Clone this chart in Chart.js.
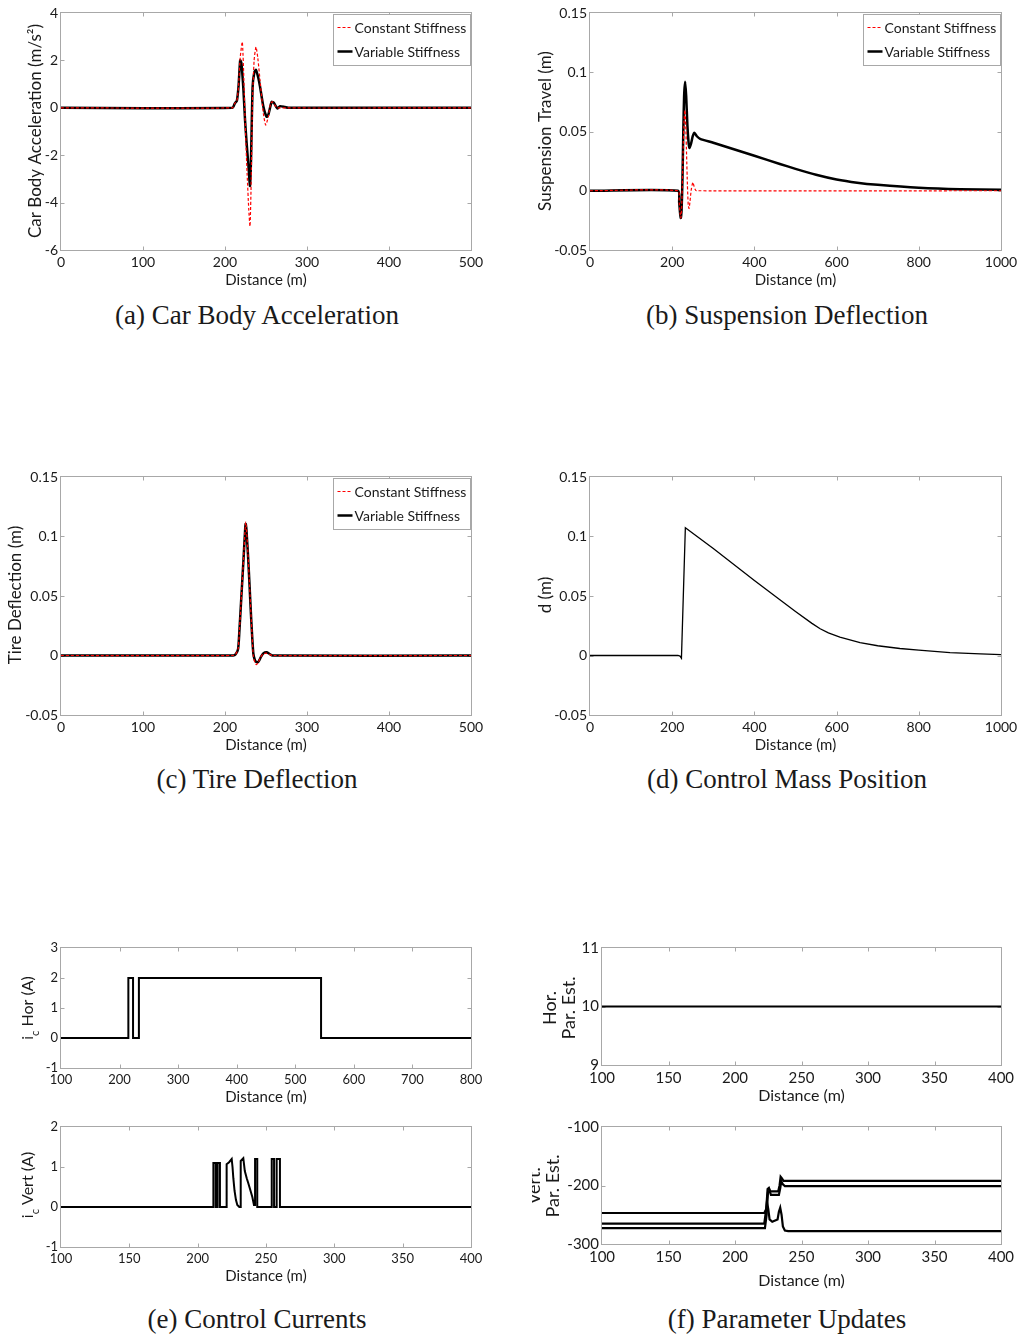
<!DOCTYPE html>
<html><head><meta charset="utf-8">
<script src="https://cdn.jsdelivr.net/npm/chart.js@4.4.1/dist/chart.umd.min.js"></script>
<style>
body{margin:0;background:#fff;width:1021px;height:1335px;overflow:hidden;position:relative;}
.p{position:absolute;}
.cap{position:absolute;font-family:"Liberation Serif","Times New Roman",serif;font-size:27px;line-height:30px;color:#1a1a1a;white-space:nowrap;transform:translateX(-50%);}
</style></head><body>
<div class="cap" style="left:257px;top:300px">(a) Car Body Acceleration</div>
<div class="cap" style="left:787px;top:300px">(b) Suspension Deflection</div>
<div class="cap" style="left:257px;top:764px">(c) Tire Deflection</div>
<div class="cap" style="left:787px;top:764px">(d) Control Mass Position</div>
<div class="cap" style="left:257px;top:1304px">(e) Control Currents</div>
<div class="cap" style="left:787px;top:1304px">(f) Parameter Updates</div>
<script>
// ---------- DATA ----------
const legendLabels = ['Constant Stiffness', 'Variable Stiffness'];

// (a) Car body acceleration
const aConstX = [0,209,212,214.5,216.5,218.5,221.1,223,225,227,229,230.5,232,233.5,235.5,237.8,240,242.7,246.8,249.6,252.8,255.7,258,261,264,500];
const aConstY = [0,0,0.19,0.3,0.9,2.1,2.78,1.2,-1.0,-2.8,-4.3,-5.0,-3.0,0.2,2.0,2.57,2.1,1.17,-0.24,-0.73,-0.38,0.19,0.25,0.1,0,0];
const aVarX = [0,209,212,214.5,216.5,218.5,220,222.4,224.4,226.4,228.5,230.5,231.7,233.7,235.8,237.8,240.7,242.7,246.8,250.8,252.8,256.9,259.8,263.8,267.1,273,277,500];
const aVarY = [0,0,0.19,0.3,0.9,2.0,1.9,0.8,-0.5,-1.5,-2.4,-3.3,-2.2,0.9,1.5,1.6,1.25,0.9,0.05,-0.38,-0.3,0.25,0.2,-0.03,0.07,0.03,0,0];
const aXTicks = [0,100,200,300,400,500];
const aYTicks = [-6,-4,-2,0,2,4];

// (b) Suspension deflection
const bConstX = [0,214,217,219.5,221,223,225,227,229,231,233,235,237,239,241,243,246,248.5,250.5,253,256,259,1000];
const bConstY = [0,0,-0.01,-0.02,-0.023,-0.015,0.01,0.04,0.06,0.068,0.055,0.03,0.005,-0.012,-0.015,-0.01,0.0,0.005,0.007,0.004,0.001,0,0];
const bVarX = [0,214,217,219.5,221,223,225,227,229,231.5,234,237,240,242,246,250,254,260,268,300,400,462,500,550,600,650,700,800,900,1000];
const bVarY = [0,0,-0.01,-0.02,-0.023,-0.015,0.01,0.05,0.08,0.092,0.08,0.055,0.04,0.036,0.04,0.046,0.049,0.046,0.0438,0.0405,0.0295,0.0226,0.0185,0.0135,0.0095,0.0068,0.005,0.0025,0.0012,0.0008];
const bXTicks = [0,200,400,600,800,1000];
const bYTicks = [-0.05,0,0.05,0.1,0.15];

// (c) Tire deflection
const cConstX = [0,210,213,216,217.5,220,222.5,224.5,225.2,226,228,230,232,234.5,236.5,238.3,240.5,243,246,250,254,258,500];
const cConstY = [0,0,0.001,0.0056,0.02,0.05,0.08,0.106,0.112,0.108,0.086,0.058,0.03,0.0,-0.006,-0.0076,-0.006,-0.002,0.001,0.002,0.001,0,0];
const cVarX = [0,210,213,216,217.5,220,222.5,224.5,225.2,226,228,230,232,234.5,236.5,238.6,241,244,247,250.8,254,258,500];
const cVarY = [0,0,0.001,0.0056,0.02,0.05,0.08,0.105,0.1106,0.107,0.085,0.058,0.03,0.002,-0.004,-0.0056,-0.005,-0.001,0.002,0.0028,0.0015,0,0];
const cXTicks = [0,100,200,300,400,500];
const cYTicks = [-0.05,0,0.05,0.1,0.15];

// (d) Control mass position
const dX = [0,214,219,222.5,232,300,400,462,500,540,560,580,608,657,700,754,800,876,950,1000];
const dY = [0,0,-0.0005,-0.0023,0.1073,0.09,0.063,0.0468,0.037,0.027,0.0225,0.019,0.0155,0.0108,0.0082,0.0059,0.0045,0.0025,0.0013,0.0008];
const dXTicks = [0,200,400,600,800,1000];
const dYTicks = [-0.05,0,0.05,0.1,0.15];

// (e) Control currents
const eHorX = [100,215,215,223,223,233,233,544,544,800];
const eHorY = [0,0,2,2,0,0,2,2,0,0];
const eHorXTicks = [100,200,300,400,500,600,700,800];
const eHorYTicks = [-1,0,1,2,3];
const eVertX = [100,211.5,211.5,213.2,213.2,214.6,214.6,216.3,216.3,221.2,221.2,223,224.9,225.5,226.1,227,228,229,230.5,231.5,231.5,233.4,234.5,235.9,237,238.3,240,241.2,242,242,243.6,243.6,254.2,254.2,255.9,255.9,257.8,257.8,260.2,260.2,400];
const eVertY = [0,0,1.1,1.1,0,0,1.1,1.1,0,0,1.07,1.12,1.2,1.0,0.72,0.4,0.18,0.05,0,0,1.15,1.22,0.9,0.72,0.6,0.45,0.25,0.05,0.05,1.2,1.2,0,0,1.2,1.2,0,0,1.2,1.2,0,0];
const eVertXTicks = [100,150,200,250,300,350,400];
const eVertYTicks = [-1,0,1,2];

// (f) Parameter updates
const fHorX = [100,400];
const fHorY = [10,10];
const fHorXTicks = [100,150,200,250,300,350,400];
const fHorYTicks = [9,10,11];
const fV1X = [100,222,223.5,224.5,225.5,226.5,232.5,233.5,234.3,235.3,236.5,400];
const fV1Y = [-247,-247,-240,-206,-204,-210,-210,-200,-185,-188,-192,-192];
const fV2X = [100,222.5,223.8,224.8,226,227,233,234,234.8,236,237.5,400];
const fV2Y = [-273,-273,-250,-212,-209,-216,-216,-205,-193,-198,-201,-201];
const fV3X = [100,222,223.2,224,225,226,228,232,233,234,235,236,237.5,240,400];
const fV3Y = [-265,-265,-245,-228,-240,-258,-262,-258,-245,-238,-250,-270,-277,-278,-278];
const fVertXTicks = [100,150,200,250,300,350,400];
const fVertYTicks = [-300,-200,-100];

// ---------- DRAWING ----------
const SANS = 'Lato, "Open Sans", sans-serif';
const pts = (xs, ys) => xs.map((x, i) => ({x, y: ys[i]}));
const red = (xs, ys) => ({label: legendLabels[0], data: pts(xs, ys), borderColor: '#ff0000', borderWidth: 1.2, borderDash: [3, 2], tension: 0.2});
const blk = (xs, ys, w, lbl) => ({label: lbl || legendLabels[1], data: pts(xs, ys), borderColor: '#000', borderWidth: w || 2.5, tension: 0.2});
const step = (xs, ys, w) => ({label: '', data: pts(xs, ys), borderColor: '#000', borderWidth: w || 2, tension: 0});

const deco = {
  id: 'deco',
  beforeDatasetsDraw(chart) {
    const o = chart.options.plugins.deco, ctx = chart.ctx, a = chart.chartArea;
    ctx.save();
    ctx.strokeStyle = '#a8a8a8'; ctx.lineWidth = 1;
    const l = Math.round(a.left) - 0.5, t = Math.round(a.top) - 0.5, r = Math.round(a.right) + 0.5, b = Math.round(a.bottom) + 0.5;
    ctx.strokeRect(l, t, r - l, b - t);
    const tl = 4;
    ctx.beginPath();
    o.xTicks.forEach(v => {
      const x = Math.round(chart.scales.x.getPixelForValue(v)) + 0.5;
      if (x <= l + 1 || x >= r - 1) return;
      ctx.moveTo(x, b); ctx.lineTo(x, b - tl);
      ctx.moveTo(x, t); ctx.lineTo(x, t + tl);
    });
    o.yTicks.forEach(v => {
      const y = Math.round(chart.scales.y.getPixelForValue(v)) + 0.5;
      if (y <= t + 1 || y >= b - 1) return;
      ctx.moveTo(l, y); ctx.lineTo(l + tl, y);
      ctx.moveTo(r, y); ctx.lineTo(r - tl, y);
    });
    ctx.stroke();
    ctx.restore();
  },
  afterDraw(chart) {
    const o = chart.options.plugins.deco, ctx = chart.ctx, a = chart.chartArea;
    ctx.save();
    ctx.fillStyle = '#1a1a1a';
    ctx.textBaseline = 'middle';
    // x title
    ctx.font = o.xFont + 'px ' + SANS;
    ctx.textAlign = 'center';
    ctx.fillText(o.xTitle, (a.left + a.right) / 2, o.xTitleY - o.oy);
    // y title
    const yf = o.yFont;
    o.yTitle.forEach(seg => {
      ctx.save();
      ctx.translate(seg.x - o.ox, o.yTitleY - o.oy);
      ctx.rotate(-Math.PI / 2);
      if (seg.parts) {
        let total = 0;
        seg.parts.forEach(p => { ctx.font = (p.sub ? yf - 5 : yf) + 'px ' + SANS; total += ctx.measureText(p.t).width; });
        let x = -total / 2;
        ctx.textAlign = 'left';
        seg.parts.forEach(p => {
          ctx.font = (p.sub ? yf - 5 : yf) + 'px ' + SANS;
          ctx.fillText(p.t, x, p.sub ? 7 : 0);
          x += ctx.measureText(p.t).width;
        });
      } else {
        ctx.font = yf + 'px ' + SANS;
        ctx.textAlign = 'center';
        ctx.fillText(seg.t, 0, 0);
      }
      ctx.restore();
    });
    // legend
    if (o.legend) {
      const w = 137, h = 51;
      const bx = Math.round(a.right) - 1 - w + 0.5, by = Math.round(a.top) + 1 + 0.5;
      ctx.fillStyle = '#fff';
      ctx.fillRect(bx, by, w, h);
      ctx.strokeStyle = '#a8a8a8'; ctx.lineWidth = 1;
      ctx.strokeRect(bx, by, w, h);
      const ds = chart.data.datasets;
      [0, 1].forEach(i => {
        const cy = by + 13 + i * 24;
        ctx.strokeStyle = ds[i].borderColor;
        ctx.lineWidth = ds[i].borderWidth;
        ctx.setLineDash(ds[i].borderDash || []);
        ctx.beginPath(); ctx.moveTo(bx + 4, cy); ctx.lineTo(bx + 19, cy); ctx.stroke();
        ctx.setLineDash([]);
        ctx.fillStyle = '#1a1a1a';
        ctx.font = '14px ' + SANS;
        ctx.textAlign = 'left';
        ctx.fillText(ds[i].label, bx + 21, cy + 1);
      });
    }
    ctx.restore();
  }
};

function panel(p) {
  const PADL = 70, PADT = 15, PADR = 30, PADB = 50;
  const ox = p.L - PADL, oy = p.T - PADT;
  const W = p.R - p.L + PADL + PADR, H = p.B - p.T + PADT + PADB;
  const div = document.createElement('div');
  div.className = 'p';
  div.style.left = ox + 'px'; div.style.top = oy + 'px';
  const cv = document.createElement('canvas');
  cv.width = W; cv.height = H; cv.style.width = W + 'px'; cv.style.height = H + 'px';
  div.appendChild(cv); document.body.appendChild(div);
  const tf = p.tickFont || 14;
  const tickCfg = {color: '#1a1a1a', font: {family: SANS, size: tf}, padding: 3, autoSkip: false, maxRotation: 0, callback: v => String(v)};
  new Chart(cv, {
    type: 'scatter',
    data: {datasets: p.datasets.map(d => Object.assign({showLine: true, pointRadius: 0, fill: false}, d))},
    options: {
      responsive: false, animation: false, events: [],
      layout: {padding: {left: 0, top: PADT, right: PADR, bottom: 0}},
      plugins: {legend: {display: false}, tooltip: {enabled: false},
        deco: {ox, oy, xTicks: p.xTicks, yTicks: p.yTicks, xTitle: 'Distance (m)', xTitleY: p.xTitleY,
               yTitle: p.yTitle, yTitleY: p.yTitleY, legend: !!p.legend, xFont: p.xFont || 15, yFont: p.yFont || 17}},
      scales: {
        x: {type: 'linear', min: p.xMin, max: p.xMax,
            afterFit: s => { s.height = PADB; },
            afterBuildTicks: s => { s.ticks = p.xTicks.map(v => ({value: v})); },
            grid: {display: false, drawTicks: false}, border: {display: false},
            ticks: Object.assign({}, tickCfg, {padding: 4})},
        y: {type: 'linear', min: p.yMin, max: p.yMax,
            afterFit: s => { s.width = PADL; },
            afterBuildTicks: s => { s.ticks = p.yTicks.map(v => ({value: v})); },
            grid: {display: false, drawTicks: false}, border: {display: false},
            ticks: tickCfg}
      }
    },
    plugins: [deco]
  });
}

panel({L: 61, T: 13, R: 471, B: 250, xMin: 0, xMax: 500, yMin: -6, yMax: 4, xTicks: aXTicks, yTicks: aYTicks,
  datasets: [red(aConstX, aConstY), blk(aVarX, aVarY)], legend: true, xTitleY: 280,
  yTitle: [{t: 'Car Body Acceleration (m/s²)', x: 36}], yTitleY: 131});
panel({L: 590, T: 13, R: 1001, B: 250, xMin: 0, xMax: 1000, yMin: -0.05, yMax: 0.15, xTicks: bXTicks, yTicks: bYTicks,
  datasets: [red(bConstX, bConstY), blk(bVarX, bVarY)], legend: true, xTitleY: 280,
  yTitle: [{t: 'Suspension Travel (m)', x: 546}], yTitleY: 131});
panel({L: 61, T: 477, R: 471, B: 715, xMin: 0, xMax: 500, yMin: -0.05, yMax: 0.15, xTicks: cXTicks, yTicks: cYTicks,
  datasets: [red(cConstX, cConstY), blk(cVarX, cVarY)], legend: true, xTitleY: 745,
  yTitle: [{t: 'Tire Deflection (m)', x: 16}], yTitleY: 595});
panel({L: 590, T: 477, R: 1001, B: 715, xMin: 0, xMax: 1000, yMin: -0.05, yMax: 0.15, xTicks: dXTicks, yTicks: dYTicks,
  datasets: [Object.assign(blk(dX, dY, 1.3, 'd'), {tension: 0})], xTitleY: 745,
  yTitle: [{t: 'd (m)', x: 546}], yTitleY: 595});
panel({L: 61, T: 948, R: 471, B: 1068, xMin: 100, xMax: 800, yMin: -1, yMax: 3, xTicks: eHorXTicks, yTicks: eHorYTicks,
  datasets: [step(eHorX, eHorY, 2)], xTitleY: 1097, tickFont: 13, yFont: 16,
  yTitle: [{parts: [{t: 'i'}, {t: 'c', sub: true}, {t: ' Hor (A)'}], x: 28}], yTitleY: 1008});
panel({L: 61, T: 1127, R: 471, B: 1247, xMin: 100, xMax: 400, yMin: -1, yMax: 2, xTicks: eVertXTicks, yTicks: eVertYTicks,
  datasets: [step(eVertX, eVertY, 2)], xTitleY: 1276, tickFont: 13, yFont: 16,
  yTitle: [{parts: [{t: 'i'}, {t: 'c', sub: true}, {t: ' Vert (A)'}], x: 28}], yTitleY: 1185});
panel({L: 602, T: 948, R: 1001, B: 1065, xMin: 100, xMax: 400, yMin: 9, yMax: 11, xTicks: fHorXTicks, yTicks: fHorYTicks,
  datasets: [step(fHorX, fHorY, 2.2)], xTitleY: 1096, tickFont: 15, xFont: 16, yFont: 18,
  yTitle: [{t: 'Hor.', x: 550}, {t: 'Par. Est.', x: 569}], yTitleY: 1008});
panel({L: 602, T: 1127, R: 1001, B: 1244, xMin: 100, xMax: 400, yMin: -300, yMax: -100, xTicks: fVertXTicks, yTicks: fVertYTicks,
  datasets: [step(fV1X, fV1Y, 2.2), step(fV2X, fV2Y, 2.2), step(fV3X, fV3Y, 2.2)], xTitleY: 1281, tickFont: 15, xFont: 16, yFont: 18,
  yTitle: [{t: 'Vert.', x: 534}, {t: 'Par. Est.', x: 553}], yTitleY: 1186});
</script>
</body></html>
